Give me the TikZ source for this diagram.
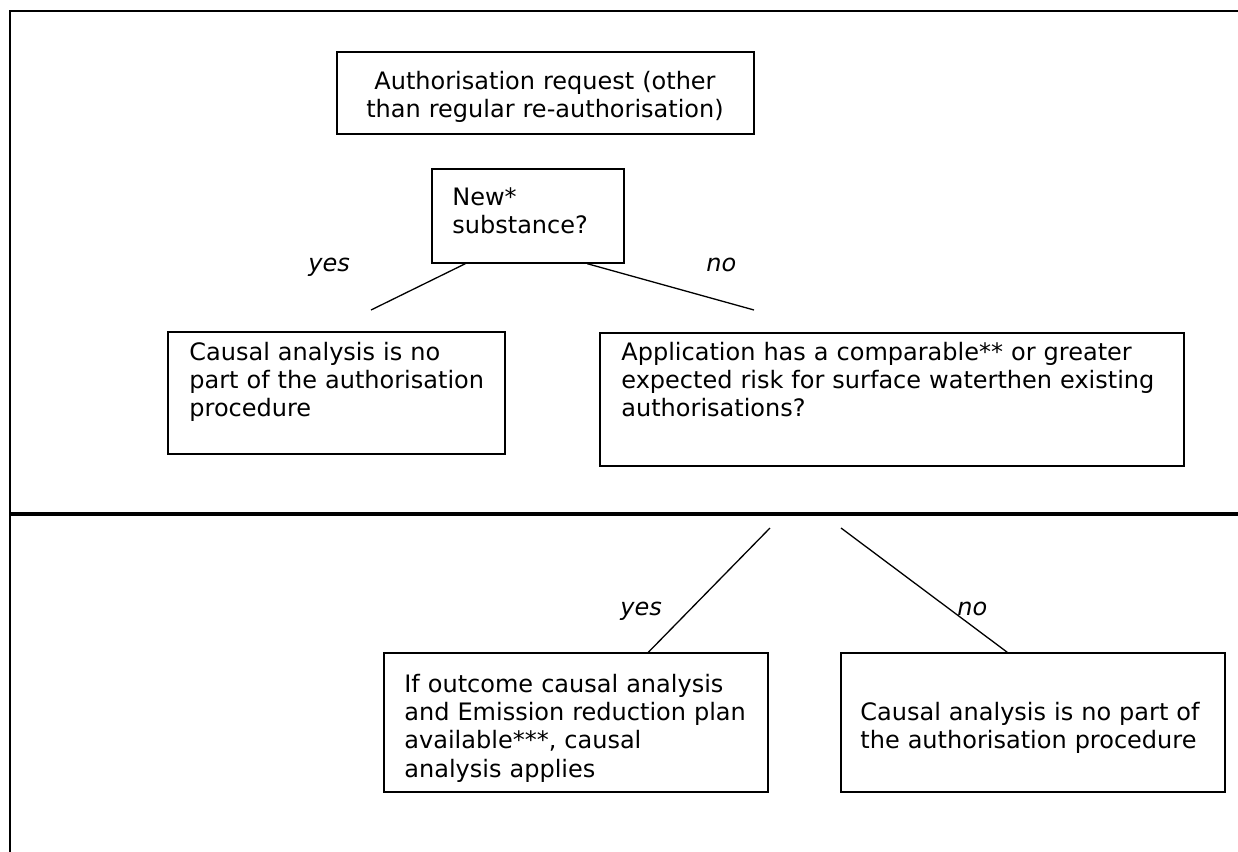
\documentclass[tikz,border=0pt]{standalone}
\usepackage{fontspec}
\setmainfont{DejaVu Sans}
\begin{document}
\begin{tikzpicture}[x=0.5pt,y=-0.5pt,
  boxnode/.style={draw,line width=0.7pt,rectangle,inner sep=0pt},
  txt/.style={anchor=base west,inner sep=0pt,text width=300pt,align=left,
    font=\fontsize{12}{14.2}\selectfont},
  ctxt/.style={anchor=base,inner sep=0pt,text width=300pt,align=center,
    font=\fontsize{12}{14.2}\selectfont},
  lbl/.style={anchor=base west,inner sep=0pt,font=\fontsize{12}{14.2}\selectfont\itshape},
  conn/.style={line width=0.65pt},
  frame/.style={line width=1pt},
  divider/.style={line width=2pt}]
\useasboundingbox (0,0) rectangle (1238,852);

% page frame and divider
\coordinate (ftl) at (10,11);
\coordinate (ftr) at (1238,11);
\coordinate (fbl) at (10,852);
\coordinate (dl) at (10,513.5);
\coordinate (dr) at (1238,513.5);
\draw[frame] (fbl) -- (ftl) -- (ftr);
\draw[divider] (dl) -- (dr);

% boxes
\node[boxnode,minimum width=208.5pt,minimum height=41pt] (b1) at (545.5,93) {};
\node[boxnode,minimum width=96pt,minimum height=47pt] (b2) at (528,216) {};
\node[boxnode,minimum width=168.5pt,minimum height=61pt] (b3) at (336.5,393) {};
\node[boxnode,minimum width=292pt,minimum height=66.5pt] (b4) at (892,399.5) {};
\node[boxnode,minimum width=192pt,minimum height=69.5pt] (b5) at (576,722.5) {};
\node[boxnode,minimum width=192pt,minimum height=69.5pt] (b6) at (1033,722.5) {};

% box texts
\node[ctxt] (t1) at (545,89) {Authorisation request (other\\than regular re-authorisation)};
\node[txt] (t2) at (452,205) {New*\\substance?};
\node[txt] (t3) at (189,360) {Causal analysis is no\\part of the authorisation\\procedure};
\node[txt] (t4) at (621,360) {Application has a comparable** or greater\\expected risk for surface waterthen existing\\authorisations?};
\node[txt] (t5) at (404,692) {If outcome causal analysis\\and Emission reduction plan\\available***, causal\\analysis applies};
\node[txt] (t6) at (860,720) {Causal analysis is no part of\\the authorisation procedure};

% branch labels
\node[lbl] (l1) at (308,271) {yes};
\node[lbl] (l2) at (706,271) {no};
\node[lbl] (l3) at (620,615) {yes};
\node[lbl] (l4) at (957,615) {no};

% branch connectors
\coordinate (ya) at (371,310);
\coordinate (na) at (754,310);
\coordinate (yb) at (770,528);
\coordinate (nb) at (841,528);
\draw[conn] ([xshift=17pt]b2.south west) -- (ya);
\draw[conn] ([xshift=78pt]b2.south west) -- (na);
\draw[conn] (yb) -- ([xshift=132.5pt]b5.north west);
\draw[conn] (nb) -- ([xshift=83.5pt]b6.north west);
\end{tikzpicture}
\end{document}
